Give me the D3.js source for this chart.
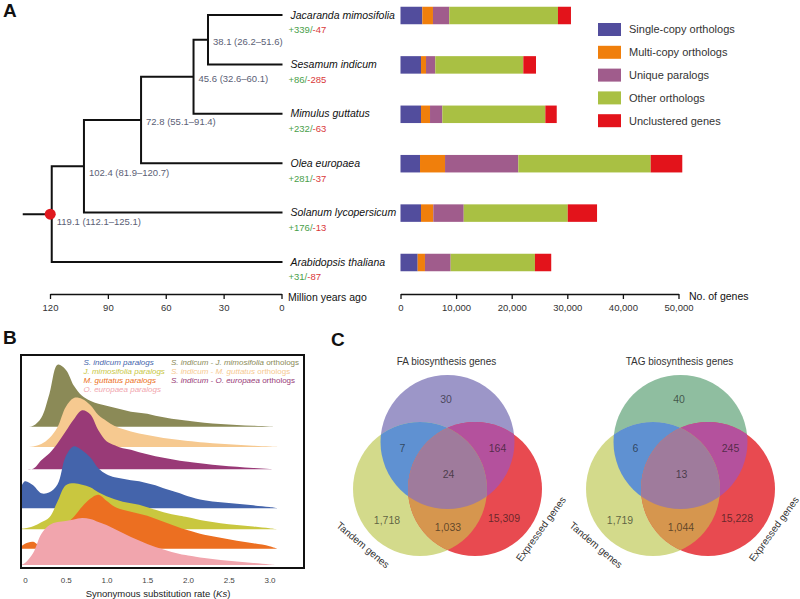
<!DOCTYPE html>
<html><head><meta charset="utf-8">
<script src="https://cdn.jsdelivr.net/npm/d3@7"></script>
<style>
body{margin:0;background:#fff;}
svg{display:block;font-family:"Liberation Sans",Arial,Helvetica,sans-serif;}
</style></head><body>
<svg id="c" width="800" height="599"></svg>
<script>
// ---------------- DATA ----------------
const species = ["Jacaranda mimosifolia","Sesamum indicum","Mimulus guttatus","Olea europaea","Solanum lycopersicum","Arabidopsis thaliana"];
const gains  = [339, 86, 232, 281, 176, 31];
const losses = [47, 285, 63, 37, 13, 87];
// divergence nodes (caterpillar tree: node k joins previous clade with species k+1)
const nodeAges = [38.1, 45.6, 72.8, 102.4, 119.1];
const nodeCI   = [[26.2,51.6],[32.6,60.1],[55.1,91.4],[81.9,120.7],[112.1,125.1]];
const timeTicks = [120, 90, 60, 30, 0];

const geneCategories = ["Single-copy orthologs","Multi-copy orthologs","Unique paralogs","Other orthologs","Unclustered genes"];
const singleCopy     = [3920, 3690, 3690, 3510, 3690, 3090];
const multiCopy      = [1920, 900, 1620, 4500, 2210, 1310];
const uniqueParalogs = [2930, 1670, 2210, 13180, 5470, 4620];
const otherOrthologs = [19550, 15830, 18530, 23810, 18710, 15160];
const unclustered    = [2340, 2280, 2050, 5680, 5270, 2930];
const geneTicks = [0, 10000, 20000, 30000, 40000, 50000];

// Ks distributions (relative frequency)
const ksGrid = [-0.05,0,0.1,0.2,0.3,0.4,0.5,0.6,0.7,0.8,0.9,1.0,1.1,1.2,1.3,1.4,1.5,1.6,1.7,1.8,1.9,2.0,2.2,2.4,2.6,2.8,3.0,3.1];
const ridgeNames = ["S. indicum - J. mimosifolia orthologs","S. indicum - M. guttatus orthologs","S. indicum - O. europaea orthologs","S. indicum paralogs","J. mimosifolia paralogs","M. guttatus paralogs","O. europaea paralogs"];
const ksSiJm = [0,0,1,9,33,62,57,41,31,26,23,21,19,17,15,14,13,11,9.5,8,7,6,4,2.8,1.8,1,0.3,0];
const ksSiMg = [0,0,0.5,3,9,20,40,49,48,42,32,26,21,18,15.5,13.5,12,10.5,9,8,7,6,4.5,3.2,2.2,1.2,0.4,0];
const ksSiOe = [0,0,0.5,9,16,26,38,50,59,55,39,28,24,21,19.5,17,15,13,11.5,10,8.5,7.5,5.5,3.8,2.5,1.3,0.4,0];
const ksSi   = [21,27,23,15,16,24,52,62,58,51,40,34,31,29.5,28,27,25,23,20,17.5,15,12,8,6,4.5,3,1.2,0];
const ksJm   = [0.5,1,3,7,12,28,44,46,44.5,42,37,33,30,27.5,26,24.5,22,19.5,17,15,13.5,12,8.5,6,4.3,2.8,1,0];
const ksMg   = [2,5,7,2,5,14,24,32,42,50,54,48,42,39,37,35,33,30,27,24,21,18.5,14,11,8,5.5,2.5,0];
const ksOe   = [0,2,12,31,40,43,44,45.5,47,46,43,40,36,32,28,24.5,21,18,15.5,13,11,9.5,7,5,3.5,2,0.6,0];
const ksTicks = [0,0.5,1.0,1.5,2.0,2.5,3.0];

// Venn counts: [top only, top∩left, top∩right, all, left only, left∩right, right only]
const vennSets = ["Tandem genes","Expressed genes"];
const faCounts  = [30, 7, 164, 24, 1718, 1033, 15309];
const tagCounts = [40, 6, 245, 13, 1719, 1044, 15228];

// ---------------- DRAW ----------------
const svg = d3.select("#c");
const fmt = d3.format(",");

function letter(t,x,y){svg.append("text").attr("x",x).attr("y",y).attr("font-size",19).attr("font-weight","bold").attr("fill","#111").text(t);}
letter("A",3,17); letter("B",3,344); letter("C",331,346);

// ---- Tree ----
const xTime = d3.scaleLinear().domain([120,0]).range([50,281.5]);
const yLeaf = d3.scalePoint().domain(species).range([15,262]);
let clade = {age:nodeAges[0], ci:nodeCI[0], children:[{name:species[0]},{name:species[1]}]};
for(let k=1;k<nodeAges.length;k++) clade = {age:nodeAges[k], ci:nodeCI[k], children:[clade,{name:species[k+1]}]};
const root = d3.hierarchy(clade);
root.eachAfter(n=>{
  if(!n.children){n.px=xTime(0); n.py=yLeaf(n.data.name);}
  else {n.px=xTime(n.data.age); n.py=(n.children[0].py+n.children[n.children.length-1].py)/2;}
});
const gTree = svg.append("g");
let pathD = `M${root.px-28},${root.py}H${root.px}`;
root.each(n=>{
  if(n.children){
    const c0=n.children[0], c1=n.children[n.children.length-1];
    pathD += `M${n.px},${c0.py}V${c1.py}`;
    n.children.forEach(c=>{pathD += `M${n.px},${c.py}H${c.px}`;});
  }
});
gTree.append("path").attr("d",pathD).attr("fill","none").attr("stroke","#111").attr("stroke-width",2).attr("stroke-linecap","square");
gTree.append("circle").attr("cx",root.px-1.5).attr("cy",root.py).attr("r",5.5).attr("fill","#e0191f");
root.descendants().filter(n=>n.children).forEach(n=>{
  const isRoot = n===root;
  gTree.append("text").attr("x",n.px+(isRoot?5:5)).attr("y",n.py+(n.data.age>100?(isRoot?8:6):1.5))
    .attr("dy","0.35em").attr("font-size",9.5).attr("fill","#5b6075")
    .text(`${n.data.age} (${n.data.ci[0]}\u2013${n.data.ci[1]})`);
});
root.leaves().forEach(n=>{
  const i = species.indexOf(n.data.name);
  gTree.append("text").attr("x",n.px+9).attr("y",n.py).attr("dy","0.35em").attr("font-size",10.5)
    .attr("font-style","italic").attr("fill","#111").text(n.data.name);
  const t = gTree.append("text").attr("x",n.px+7).attr("y",n.py+15).attr("dy","0.35em").attr("font-size",9.5);
  t.append("tspan").attr("fill","#4aa04a").text(`+${gains[i]}/`);
  t.append("tspan").attr("fill","#d9383a").text(`-${losses[i]}`);
});
// time axis
const axT = svg.append("g").attr("transform","translate(0,294)")
  .call(d3.axisBottom(xTime).tickValues(timeTicks).tickSize(5).tickSizeOuter(0).tickPadding(5).tickFormat(d3.format("d")));
axT.select(".domain").attr("stroke","#111").attr("stroke-width",1.3);
axT.selectAll(".tick line").attr("stroke","#111").attr("stroke-width",1.3);
axT.selectAll("text").attr("font-size",9.5).attr("fill","#333").attr("font-family",null);
svg.append("text").attr("x",288).attr("y",297).attr("dy","0.35em").attr("font-size",10.5).attr("fill","#111").text("Million years ago");

// ---- Stacked bars ----
const xGene = d3.scaleLinear().domain([0,50000]).range([400.5,678.5]);
const barColors = ["#524d9d","#f07f0c","#a05c8c","#a9c043","#e3131b"];
const rows = species.map((s,i)=>({sp:s, "Single-copy orthologs":singleCopy[i],"Multi-copy orthologs":multiCopy[i],"Unique paralogs":uniqueParalogs[i],"Other orthologs":otherOrthologs[i],"Unclustered genes":unclustered[i]}));
const stacked = d3.stack().keys(geneCategories)(rows);
const barH = 17.5;
const gBars = svg.append("g");
stacked.forEach((layer,k)=>{
  gBars.selectAll(null).data(layer).join("rect")
    .attr("x",d=>xGene(d[0])).attr("width",d=>xGene(d[1])-xGene(d[0]))
    .attr("y",d=>yLeaf(d.data.sp)-barH/2+0.5).attr("height",barH)
    .attr("fill",barColors[k]);
});
const axG = svg.append("g").attr("transform","translate(0,294)")
  .call(d3.axisBottom(xGene).tickValues(geneTicks).tickSize(5).tickSizeOuter(0).tickPadding(5).tickFormat(fmt));
axG.select(".domain").attr("stroke","#111").attr("stroke-width",1.3);
axG.selectAll(".tick line").attr("stroke","#111").attr("stroke-width",1.3);
axG.selectAll("text").attr("font-size",9.5).attr("fill","#333").attr("font-family",null);
svg.append("text").attr("x",689).attr("y",296).attr("dy","0.35em").attr("font-size",10.5).attr("fill","#111").text("No. of genes");
// legend
const gLeg = svg.append("g").attr("transform","translate(598,23)");
geneCategories.forEach((c,k)=>{
  gLeg.append("rect").attr("x",0).attr("y",k*22.8).attr("width",23).attr("height",13).attr("fill",barColors[k]);
  gLeg.append("text").attr("x",31).attr("y",k*22.8+6.5).attr("dy","0.35em").attr("font-size",11).attr("fill","#333").text(c);
});

// ---- Panel B ridgeline ----
const box = {x0:21,x1:304,y0:355,y1:568};
const xKs = d3.scaleLinear().domain([0,3]).range([25,269.5]);
const hKs = d3.scaleLinear().domain([0,70]).range([0,70]);
const ridgeData = [ksSiJm, ksSiMg, ksSiOe, ksSi, ksJm, ksMg, ksOe];
const ridgeColors = ["#8b8a57","#f6c990","#993a77","#4464ab","#c9c73f","#ec6f21","#f1a5ad"];
const ridgeBase = [426.7, 447, 469.3, 508.3, 529.3, 548.7, 565];
svg.append("clipPath").attr("id","boxclip").append("rect")
  .attr("x",box.x0).attr("y",box.y0).attr("width",box.x1-box.x0).attr("height",box.y1-box.y0);
const gR = svg.append("g").attr("clip-path","url(#boxclip)");
ridgeData.forEach((arr,k)=>{
  const base = ridgeBase[k];
  const area = d3.area().x((d,i)=>xKs(ksGrid[i])).y0(base).y1(d=>base-hKs(d)).curve(d3.curveCatmullRom.alpha(0.5));
  gR.append("path").attr("d",area(arr)).attr("fill",ridgeColors[k]);
});
svg.append("rect").attr("x",box.x0).attr("y",box.y0).attr("width",box.x1-box.x0).attr("height",box.y1-box.y0)
  .attr("fill","none").attr("stroke","#111").attr("stroke-width",2);
const axK = svg.append("g").attr("transform",`translate(0,${box.y1})`)
  .call(d3.axisBottom(xKs).tickValues(ksTicks).tickSize(0).tickPadding(9).tickFormat(d3.format(".1f")));
axK.select(".domain").remove();
axK.selectAll("text").attr("font-size",8).attr("fill","#444").attr("font-family",null);
axK.selectAll(".tick").filter(d=>d===0).select("text").text("0");
const kt = svg.append("text").attr("x",158).attr("y",593.5).attr("dy","0.35em").attr("text-anchor","middle").attr("font-size",9.5).attr("fill","#222");
kt.append("tspan").text("Synonymous substitution rate (");
kt.append("tspan").attr("font-style","italic").text("Ks");
kt.append("tspan").text(")");
// legend B: column 1 = paralogs (ridges 3..6), column 2 = orthologs (0..2)
const col1 = [3,4,5,6], col2 = [0,1,2];
col1.forEach((k,j)=>{
  svg.append("text").attr("x",83.5).attr("y",361.7+j*9.2).attr("dy","0.35em").attr("font-size",8)
    .attr("font-style","italic").attr("fill",ridgeColors[k]).text(ridgeNames[k]);
});
col2.forEach((k,j)=>{
  const nm = ridgeNames[k]; const cut = nm.lastIndexOf(" ");
  const t = svg.append("text").attr("x",171).attr("y",361.7+j*9.2).attr("dy","0.35em").attr("font-size",8).attr("fill",ridgeColors[k]);
  t.append("tspan").attr("font-style","italic").text(nm.slice(0,cut+1));
  t.append("tspan").text(nm.slice(cut+1));
});

// ---- Panel C Venn diagrams ----
const R = 67;
const numOff = [[-1.5,399.5],[-45,448.5],[50,448.5],[1,474.5],[-60.5,520],[0.5,527.5],[56.5,518.7]];
function venn(id, cx, title, counts, topCol){
  const cTop=[cx,442], cL=[cx-27.5,489], cR=[cx+27.5,489];
  const g = svg.append("g");
  [["T",cTop],["L",cL],["R",cR]].forEach(([n,c])=>{
    svg.append("clipPath").attr("id",id+n).append("circle").attr("cx",c[0]).attr("cy",c[1]).attr("r",R);
  });
  const circ = (parent,c,fill)=>parent.append("circle").attr("cx",c[0]).attr("cy",c[1]).attr("r",R).attr("fill",fill);
  circ(g,cTop,topCol); circ(g,cL,"#d3da8b"); circ(g,cR,"#e84a50");
  circ(g.append("g").attr("clip-path",`url(#${id}T)`),cL,"#5f91d2");
  circ(g.append("g").attr("clip-path",`url(#${id}T)`),cR,"#b4519d");
  circ(g.append("g").attr("clip-path",`url(#${id}L)`),cR,"#d6964e");
  circ(g.append("g").attr("clip-path",`url(#${id}T)`).append("g").attr("clip-path",`url(#${id}L)`),cR,"#9f7b9c");
  counts.forEach((v,i)=>{
    g.append("text").attr("x",cx+numOff[i][0]).attr("y",numOff[i][1]).attr("dy","0.35em").attr("text-anchor","middle")
      .attr("font-size",10.5).attr("fill","#111").attr("fill-opacity",0.62).text(fmt(v));
  });
  g.append("text").attr("x",cx-1).attr("y",361.7).attr("dy","0.35em").attr("text-anchor","middle").attr("font-size",10).attr("fill","#333").text(title);
  g.append("text").attr("transform",`translate(${cL[0]-57},${cL[1]+56}) rotate(40)`).attr("dy","0.35em").attr("text-anchor","middle")
    .attr("font-size",10).attr("fill","#333").text(vennSets[0]);
  g.append("text").attr("transform",`translate(${cR[0]+66},${cR[1]+40}) rotate(-54)`).attr("dy","0.35em").attr("text-anchor","middle")
    .attr("font-size",10).attr("fill","#333").text(vennSets[1]);
}
venn("va",447.5,"FA biosynthesis genes",faCounts,"#9c96c8");
venn("vb",680.5,"TAG biosynthesis genes",tagCounts,"#8fbea0");
</script>
</body></html>
